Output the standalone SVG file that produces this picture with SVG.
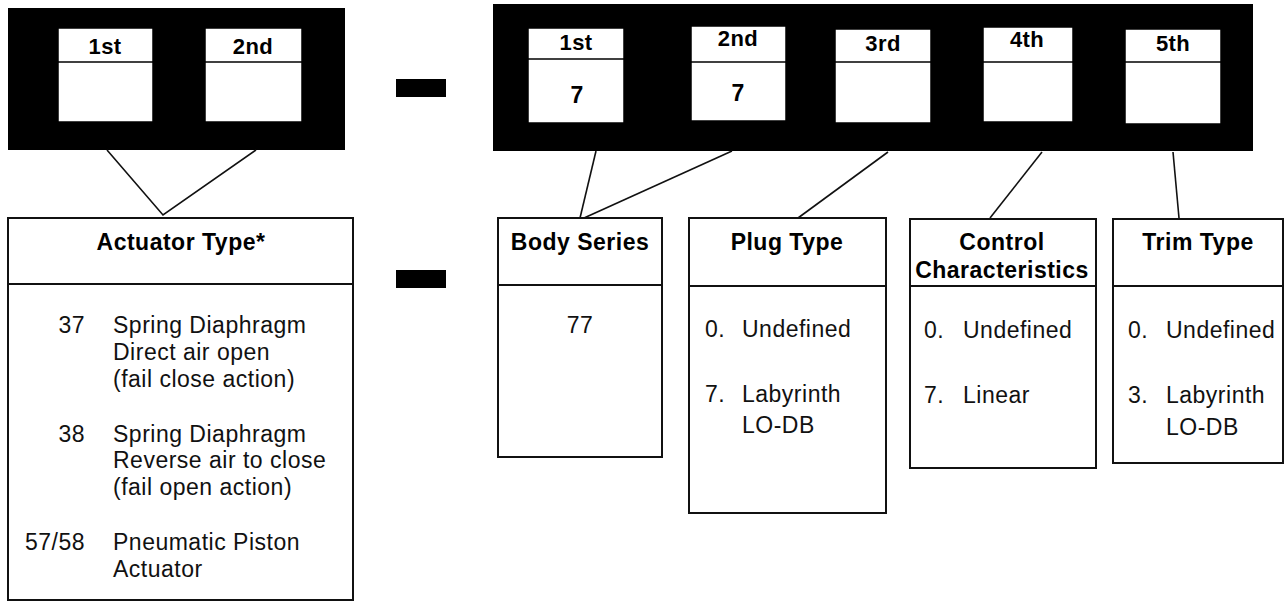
<svg xmlns="http://www.w3.org/2000/svg" width="1288" height="601" viewBox="0 0 1288 601">
<style>
.blk{fill:#000}
.cell{fill:#fff;stroke:#000;stroke-width:1.5}
.box{fill:#fff;stroke:#111;stroke-width:2}
.div{stroke:#111;stroke-width:2}
.cdiv{stroke:#000;stroke-width:1.5}
.con{stroke:#111;stroke-width:1.6;fill:none}
.hd{font-family:"Liberation Sans",Arial,sans-serif;font-weight:bold;font-size:22px;letter-spacing:0.4px;fill:#000;text-anchor:middle}
.val{font-family:"Liberation Sans",Arial,sans-serif;font-weight:bold;font-size:23px;fill:#000;text-anchor:middle}
.ttl{font-family:"Liberation Sans",Arial,sans-serif;font-weight:bold;font-size:23px;letter-spacing:0.5px;fill:#000;text-anchor:middle}
.tx{font-family:"Liberation Sans",Arial,sans-serif;font-size:23px;letter-spacing:0.5px;fill:#111}
.num{text-anchor:end}
</style>
<rect width="1288" height="601" fill="#fff"/>

<g id="code-left">
<rect class="blk" x="8" y="8" width="337" height="142"/>
<rect class="cell" x="58" y="28" width="95" height="94"/>
<line class="cdiv" x1="58" y1="62" x2="153" y2="62"/>
<text class="hd" x="105" y="54">1st</text>
<rect class="cell" x="205" y="28" width="97" height="94"/>
<line class="cdiv" x1="205" y1="62" x2="302" y2="62"/>
<text class="hd" x="253" y="54">2nd</text>
</g>

<g id="dash-top"><rect class="blk" x="396" y="79" width="50" height="18"/></g>
<g id="dash-bottom"><rect class="blk" x="396" y="270" width="50" height="18"/></g>

<g id="code-right">
<rect class="blk" x="493" y="4" width="760" height="147"/>
<rect class="cell" x="528" y="28" width="96" height="95"/>
<line class="cdiv" x1="528" y1="59" x2="624" y2="59"/>
<text class="hd" x="576" y="50">1st</text>
<text class="val" x="577" y="103">7</text>
<rect class="cell" x="691" y="26" width="95" height="95"/>
<line class="cdiv" x1="691" y1="62" x2="786" y2="62"/>
<text class="hd" x="738" y="46">2nd</text>
<text class="val" x="738" y="101">7</text>
<rect class="cell" x="835" y="29" width="96" height="94"/>
<line class="cdiv" x1="835" y1="62" x2="931" y2="62"/>
<text class="hd" x="883" y="51">3rd</text>
<rect class="cell" x="983" y="27" width="90" height="95"/>
<line class="cdiv" x1="983" y1="62" x2="1073" y2="62"/>
<text class="hd" x="1027" y="47">4th</text>
<rect class="cell" x="1125" y="29" width="96" height="95"/>
<line class="cdiv" x1="1125" y1="62" x2="1221" y2="62"/>
<text class="hd" x="1173" y="51">5th</text>
</g>

<g id="connectors">
<polyline class="con" points="107,150 163,215 256,150"/>
<line class="con" x1="596" y1="151" x2="580" y2="218"/>
<line class="con" x1="732" y1="151" x2="584" y2="218"/>
<line class="con" x1="888" y1="152" x2="798" y2="218"/>
<line class="con" x1="1042" y1="152" x2="990" y2="218"/>
<line class="con" x1="1173" y1="152" x2="1179" y2="218"/>
</g>

<g id="actuator-type">
<rect class="box" x="8" y="218" width="345" height="382"/>
<line class="div" x1="8" y1="284" x2="353" y2="284"/>
<text class="ttl" x="181" y="250">Actuator Type*</text>
<text class="tx num" x="85" y="333">37</text>
<text class="tx" x="113" y="333">Spring Diaphragm</text>
<text class="tx" x="113" y="360">Direct air open</text>
<text class="tx" x="113" y="387">(fail close action)</text>
<text class="tx num" x="85" y="442">38</text>
<text class="tx" x="113" y="442">Spring Diaphragm</text>
<text class="tx" x="113" y="468">Reverse air to close</text>
<text class="tx" x="113" y="495">(fail open action)</text>
<text class="tx num" x="85" y="550">57/58</text>
<text class="tx" x="113" y="550">Pneumatic Piston</text>
<text class="tx" x="113" y="577">Actuator</text>
</g>

<g id="body-series">
<rect class="box" x="498" y="218" width="164" height="239"/>
<line class="div" x1="498" y1="285" x2="662" y2="285"/>
<text class="ttl" x="580" y="250">Body Series</text>
<text class="tx" x="580" y="333" text-anchor="middle">77</text>
</g>

<g id="plug-type">
<rect class="box" x="689" y="218" width="197" height="295"/>
<line class="div" x1="689" y1="286" x2="886" y2="286"/>
<text class="ttl" x="787" y="250">Plug Type</text>
<text class="tx" x="705" y="337">0.</text>
<text class="tx" x="742" y="337">Undefined</text>
<text class="tx" x="705" y="402">7.</text>
<text class="tx" x="742" y="402">Labyrinth</text>
<text class="tx" x="742" y="433">LO-DB</text>
</g>

<g id="control-characteristics">
<rect class="box" x="910" y="219" width="186" height="249"/>
<line class="div" x1="910" y1="286" x2="1096" y2="286"/>
<text class="ttl" x="1002" y="250">Control</text>
<text class="ttl" x="1002" y="278" letter-spacing="0.6">Characteristics</text>
<text class="tx" x="924" y="338">0.</text>
<text class="tx" x="963" y="338">Undefined</text>
<text class="tx" x="924" y="403">7.</text>
<text class="tx" x="963" y="403">Linear</text>
</g>

<g id="trim-type">
<rect class="box" x="1113" y="219" width="170" height="244"/>
<line class="div" x1="1113" y1="286" x2="1283" y2="286"/>
<text class="ttl" x="1198" y="250">Trim Type</text>
<text class="tx" x="1128" y="338">0.</text>
<text class="tx" x="1166" y="338">Undefined</text>
<text class="tx" x="1128" y="403">3.</text>
<text class="tx" x="1166" y="403">Labyrinth</text>
<text class="tx" x="1166" y="435">LO-DB</text>
</g>
</svg>
